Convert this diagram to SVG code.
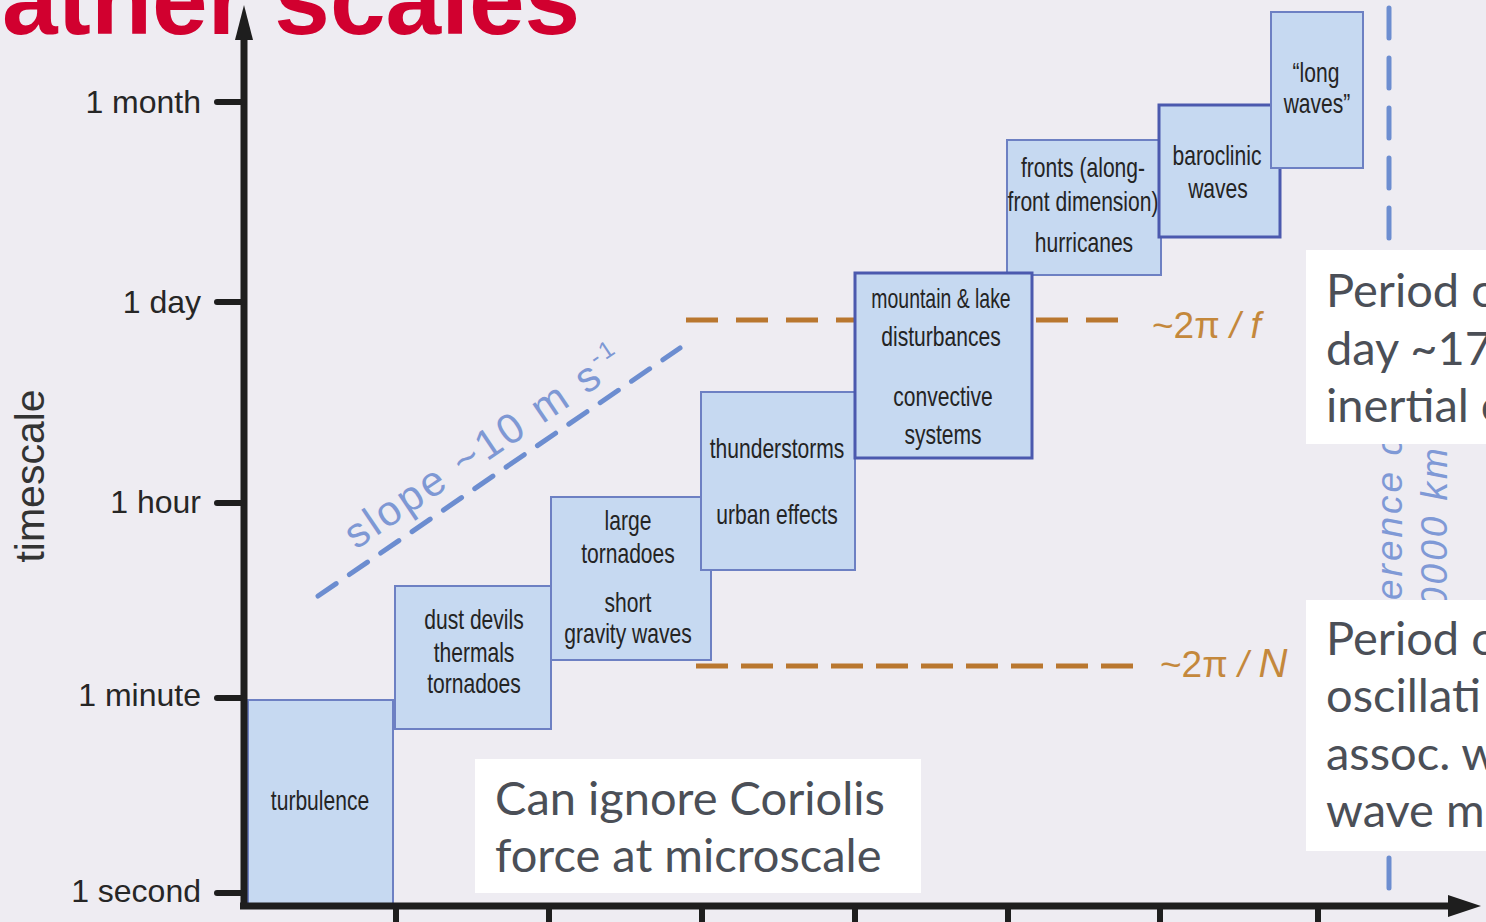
<svg xmlns="http://www.w3.org/2000/svg" width="1486" height="922" viewBox="0 0 1486 922">
<defs>
<style>
.box{fill:#c6d9f1;stroke:#6d80c3;stroke-width:2}
.boxb{fill:#c6d9f1;stroke:#4b59ae;stroke-width:3}
.bt{font-family:"Liberation Sans",Arial,sans-serif;font-size:27px;fill:#242424;text-anchor:middle}
.tl{font-family:"Liberation Sans",Arial,sans-serif;font-size:32px;fill:#262626;text-anchor:end}
.wt{font-family:Lato,"Open Sans",sans-serif;font-size:47px;fill:#4b4f57}
.or{fill:none;stroke:#b9772f;stroke-width:5}
.ot{font-family:"Liberation Sans",Arial,sans-serif;font-size:37px;fill:#c4883c}
.ax{stroke:#1e1e1e;stroke-width:7;fill:none}
.tk{stroke:#1e1e1e;stroke-width:6;stroke-linecap:round}
.bl{fill:none;stroke:#6c8dd0;stroke-width:5;stroke-linecap:round}
.btx{font-family:"Liberation Sans",Arial,sans-serif;font-style:italic;font-size:37px;letter-spacing:3px;fill:#7f99d6}
</style>
</defs>
<rect x="0" y="0" width="1486" height="922" fill="#eeecf2"/>
<text x="2" y="34" font-family="'Liberation Sans',Arial,sans-serif" font-weight="bold" font-size="100" fill="#d1002f">ather scales</text>

<g id="connectors">
<line class="or" x1="686" y1="320" x2="1128" y2="320" stroke-dasharray="32 18"/>
<line class="or" x1="696" y1="666" x2="1136" y2="666" stroke-dasharray="32 13"/>
<line class="bl" x1="318" y1="596" x2="680" y2="348" stroke-dasharray="22 16" stroke-width="4"/>
<line class="bl" x1="1389" y1="8" x2="1389" y2="440" stroke-dasharray="30 20"/>
<line class="bl" x1="1389" y1="608" x2="1389" y2="898" stroke-dasharray="30 20"/>
</g>

<g id="slope-label">
<text x="356" y="550" transform="rotate(-34 356 550)" font-family="'Liberation Sans',Arial,sans-serif" font-size="42" letter-spacing="3" fill="#7e98d4">slope ~10 m s<tspan dy="-18" font-size="24">-1</tspan></text>
</g>

<g id="circumference-label">
<text class="btx" x="1402" y="600" transform="rotate(-90 1402 600)">erence c</text>
<text class="btx" x="1447" y="608" transform="rotate(-90 1447 608)">0000 km</text>
</g>

<g id="turbulence"><rect class="box" x="248" y="700" width="145" height="206"/><text class="bt" transform="matrix(0.78 0 0 1 320 0)" x="0" y="810" font-size="25">turbulence</text></g>
<g id="dust-devils"><rect class="box" x="395" y="586" width="156" height="143"/><text class="bt" transform="matrix(0.78 0 0 1 474 0)" x="0" y="629">dust devils</text><text class="bt" transform="matrix(0.78 0 0 1 474 0)" x="0" y="662">thermals</text><text class="bt" transform="matrix(0.78 0 0 1 474 0)" x="0" y="693">tornadoes</text></g>
<g id="large-tornadoes"><rect class="box" x="551" y="497" width="160" height="163"/><text class="bt" transform="matrix(0.78 0 0 1 628 0)" x="0" y="530">large</text><text class="bt" transform="matrix(0.78 0 0 1 628 0)" x="0" y="563">tornadoes</text><text class="bt" transform="matrix(0.78 0 0 1 628 0)" x="0" y="612">short</text><text class="bt" transform="matrix(0.78 0 0 1 628 0)" x="0" y="643">gravity waves</text></g>
<g id="thunderstorms"><rect class="box" x="701" y="392" width="154" height="178"/><text class="bt" transform="matrix(0.78 0 0 1 777 0)" x="0" y="458">thunderstorms</text><text class="bt" transform="matrix(0.78 0 0 1 777 0)" x="0" y="524">urban effects</text></g>
<g id="fronts"><rect class="box" x="1007" y="140" width="154" height="135"/><text class="bt" transform="matrix(0.78 0 0 1 1083 0)" x="0" y="177">fronts (along-</text><text class="bt" transform="matrix(0.78 0 0 1 1083 0)" x="0" y="211">front dimension)</text><text class="bt" transform="matrix(0.78 0 0 1 1084 0)" x="0" y="252">hurricanes</text></g>
<g id="mountain"><rect class="boxb" x="855" y="273" width="177" height="185"/><text class="bt" transform="matrix(0.72 0 0 1 941 0)" x="0" y="308">mountain &amp; lake</text><text class="bt" transform="matrix(0.78 0 0 1 941 0)" x="0" y="346">disturbances</text><text class="bt" transform="matrix(0.78 0 0 1 943 0)" x="0" y="406">convective</text><text class="bt" transform="matrix(0.78 0 0 1 943 0)" x="0" y="444">systems</text></g>
<g id="baroclinic"><rect class="boxb" x="1159" y="105" width="121" height="132"/><text class="bt" transform="matrix(0.78 0 0 1 1217 0)" x="0" y="165">baroclinic</text><text class="bt" transform="matrix(0.78 0 0 1 1218 0)" x="0" y="198">waves</text></g>
<g id="long-waves"><rect class="box" x="1271" y="12" width="92" height="156"/><text class="bt" transform="matrix(0.78 0 0 1 1316 0)" x="0" y="82">“long</text><text class="bt" transform="matrix(0.78 0 0 1 1317 0)" x="0" y="113">waves”</text></g>

<g id="axes">
<line class="ax" x1="244" y1="909" x2="244" y2="34"/>
<polygon points="244,5 235,40 253,40" fill="#1e1e1e"/>
<line class="ax" x1="240" y1="906" x2="1452" y2="906"/>
<polygon points="1481,906 1448,895 1448,917" fill="#1e1e1e"/>
<line class="tk" x1="217" y1="102" x2="244" y2="102"/>
<line class="tk" x1="217" y1="302" x2="244" y2="302"/>
<line class="tk" x1="217" y1="503" x2="244" y2="503"/>
<line class="tk" x1="217" y1="698" x2="244" y2="698"/>
<line class="tk" x1="217" y1="893" x2="244" y2="893"/>
<g stroke="#1e1e1e" stroke-width="6">
<line x1="396" y1="906" x2="396" y2="922"/><line x1="549" y1="906" x2="549" y2="922"/><line x1="702" y1="906" x2="702" y2="922"/><line x1="855" y1="906" x2="855" y2="922"/><line x1="1008" y1="906" x2="1008" y2="922"/><line x1="1160" y1="906" x2="1160" y2="922"/><line x1="1318" y1="906" x2="1318" y2="922"/>
</g>
<text class="tl" x="201" y="113">1 month</text>
<text class="tl" x="201" y="313">1 day</text>
<text class="tl" x="201" y="513">1 hour</text>
<text class="tl" x="201" y="706">1 minute</text>
<text class="tl" x="201" y="902">1 second</text>
<text x="44" y="476" transform="rotate(-90 44 476)" text-anchor="middle" font-family="'Liberation Sans',Arial,sans-serif" font-size="41" fill="#333">timescale</text>
</g>

<g id="freq-labels">
<text class="ot" x="1152" y="338">~2π <tspan font-style="italic">/ f</tspan></text>
<text class="ot" x="1160" y="677">~2π <tspan font-style="italic">/ <tspan font-size="40">N</tspan></tspan></text>
</g>

<g id="note-inertial"><rect x="1306" y="250" width="180" height="194" fill="#ffffff"/><text class="wt" x="1326" y="307">Period o</text><text class="wt" x="1326" y="365">day ~17</text><text class="wt" x="1326" y="422">inertial o</text></g>
<g id="note-buoyancy"><rect x="1306" y="600" width="180" height="251" fill="#ffffff"/><text class="wt" x="1326" y="655">Period o</text><text class="wt" x="1326" y="712">oscillati</text><text class="wt" x="1326" y="770">assoc. w</text><text class="wt" x="1326" y="827">wave m</text></g>
<g id="note-coriolis"><rect x="475" y="759" width="446" height="134" fill="#ffffff"/><text class="wt" x="495" y="815">Can ignore Coriolis</text><text class="wt" x="495" y="872">force at microscale</text></g>
</svg>
